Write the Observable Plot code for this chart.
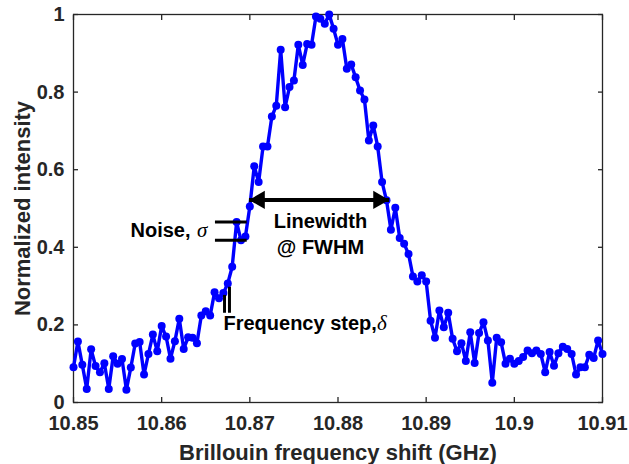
<!DOCTYPE html>
<html><head><meta charset="utf-8">
<script src="https://cdn.jsdelivr.net/npm/d3@7"></script>
<script src="https://cdn.jsdelivr.net/npm/@observablehq/plot@0.6"></script>
<style>body{margin:0;background:#fff} #chart{position:absolute;left:0;top:0}</style>
</head><body><div id="chart"></div>
<script>
// Sampling grid (GHz)
const freqStart = 10.85;
const freqStep = 0.0005;
// Normalized intensity
const intensity = [
  0.091, 0.157, 0.097, 0.035, 0.137, 0.094, 0.078, 0.101, 0.035, 0.119,
  0.100, 0.112, 0.033, 0.090, 0.152, 0.156, 0.072, 0.125, 0.175, 0.132,
  0.197, 0.170, 0.113, 0.158, 0.216, 0.138, 0.168, 0.167, 0.153, 0.224,
  0.235, 0.224, 0.284, 0.269, 0.282, 0.307, 0.350, 0.465, 0.418, 0.428,
  0.505, 0.609, 0.568, 0.660, 0.660, 0.737, 0.765, 0.909, 0.761, 0.813,
  0.830, 0.922, 0.870, 0.924, 0.922, 0.995, 0.989, 0.976, 1.000, 0.963,
  0.922, 0.937, 0.860, 0.871, 0.838, 0.804, 0.781, 0.675, 0.714, 0.660,
  0.568, 0.521, 0.445, 0.502, 0.424, 0.409, 0.383, 0.325, 0.312, 0.328,
  0.312, 0.211, 0.167, 0.237, 0.194, 0.231, 0.164, 0.132, 0.153, 0.107,
  0.181, 0.102, 0.179, 0.207, 0.160, 0.051, 0.167, 0.155, 0.100, 0.113,
  0.100, 0.107, 0.117, 0.134, 0.127, 0.134, 0.125, 0.078, 0.130, 0.095,
  0.127, 0.144, 0.138, 0.125, 0.072, 0.091, 0.091, 0.123, 0.115, 0.160,
  0.125
];
const xTicks = [10.85, 10.86, 10.87, 10.88, 10.89, 10.9, 10.91];
const xTickLabels = ["10.85", "10.86", "10.87", "10.88", "10.89", "10.9", "10.91"];
const yTicks = [0, 0.2, 0.4, 0.6, 0.8, 1];
const yTickLabels = ["0", "0.2", "0.4", "0.6", "0.8", "1"];
const xTitle = "Brillouin frequency shift (GHz)";
const yTitle = "Normalized intensity";

// Annotations
const noiseLevels = [0.465, 0.418];
const noiseSpan = [10.8661, 10.8697];
const stepBarsX = [10.86713, 10.86769];
const stepBarsTop = [0.276, 0.297];
const stepBarsBottom = [0.230, 0.230];
const fwhmEnds = [10.8699, 10.8858];
const fwhmLevel = 0.522;
const endLabels = [{x: 10.86327, y: 0.443, text: "Noise,"}];
const middleLabels = [
  {x: 10.87801, y: 0.467, text: "Linewidth"},
  {x: 10.87801, y: 0.400, text: "@ FWHM"}
];
const startLabels = [{x: 10.86701, y: 0.204, text: "Frequency step,"}];
const greekLabels = [
  {x: 10.86400, y: 0.443, text: "σ"},
  {x: 10.88442, y: 0.204, text: "δ"}
];

const data = intensity.map((v, i) => ({f: freqStart + i * freqStep, v}));
const sans = "'Liberation Sans', Arial, Helvetica, sans-serif";
const serif = "'Liberation Serif', 'Times New Roman', serif";
const axisColor = "#262626";
const textOpts = {x: "x", y: "y", text: "text", fontSize: 20, fontWeight: "bold", fill: "#000", fontFamily: sans};

const chart = Plot.plot({
  width: 629,
  height: 464,
  marginLeft: 73,
  marginRight: 27,
  marginTop: 14,
  marginBottom: 62,
  style: {fontFamily: sans, fontWeight: "bold", fontSize: "20px", color: axisColor, background: "#fff"},
  x: {domain: [10.85, 10.91]},
  y: {domain: [0, 1]},
  marks: [
    Plot.frame({stroke: axisColor, strokeWidth: 1.3}),
    // inward ticks on all four sides
    Plot.axisX(xTicks, {anchor: "bottom", tickSize: -5, tickFormat: () => "", label: null, stroke: axisColor, strokeWidth: 1.3}),
    Plot.axisX(xTicks, {anchor: "top", tickSize: -5, tickFormat: () => "", label: null, stroke: axisColor, strokeWidth: 1.3}),
    Plot.axisY(yTicks, {anchor: "left", tickSize: -5, tickFormat: () => "", label: null, stroke: axisColor, strokeWidth: 1.3}),
    Plot.axisY(yTicks, {anchor: "right", tickSize: -5, tickFormat: () => "", label: null, stroke: axisColor, strokeWidth: 1.3}),
    // tick labels
    Plot.axisX(xTicks, {anchor: "bottom", tickSize: 0, tickPadding: 13, tickFormat: (d, i) => xTickLabels[i],
      fontSize: 20, fontWeight: "bold", label: null}),
    Plot.axisY(yTicks, {anchor: "left", tickSize: 0, tickPadding: 9, tickFormat: (d, i) => yTickLabels[i],
      fontSize: 20, fontWeight: "bold", label: null}),
    // axis titles
    Plot.text([xTitle], {text: d => d, frameAnchor: "bottom", dy: 50, textAnchor: "middle", lineAnchor: "middle", fontSize: 22, fontWeight: "bold", fill: axisColor}),
    Plot.text([yTitle], {text: d => d, frameAnchor: "left", dx: -51, rotate: -90, textAnchor: "middle", lineAnchor: "middle", fontSize: 22, fontWeight: "bold", fill: axisColor}),
    // data
    Plot.line(data, {x: "f", y: "v", stroke: "#0000ff", strokeWidth: 3.4}),
    Plot.dot(data, {x: "f", y: "v", r: 4, fill: "#0000ff"}),
    // noise bars
    Plot.ruleY(noiseLevels, {y: d => d, x1: noiseSpan[0], x2: noiseSpan[1], stroke: "#000", strokeWidth: 3}),
    // frequency step bars
    Plot.ruleX(stepBarsX, {x: d => d, y1: (d, i) => stepBarsTop[i], y2: (d, i) => stepBarsBottom[i], stroke: "#000", strokeWidth: 3}),
    // FWHM double arrow
    Plot.link([fwhmLevel], {x1: fwhmEnds[0], x2: fwhmEnds[1], y1: d => d, y2: d => d, stroke: "#000", strokeWidth: 4}),
    Plot.dot([fwhmEnds[0]], {x: d => d, y: fwhmLevel, symbol: "triangle", rotate: -90, r: 6.8, fill: "#000", dx: 10.6}),
    Plot.dot([fwhmEnds[1]], {x: d => d, y: fwhmLevel, symbol: "triangle", rotate: 90, r: 6.8, fill: "#000", dx: -10.6}),
    // annotation text
    Plot.text(endLabels, {...textOpts, textAnchor: "end"}),
    Plot.text(middleLabels, {...textOpts, textAnchor: "middle"}),
    Plot.text(startLabels, {...textOpts, textAnchor: "start"}),
    Plot.text(greekLabels, {x: "x", y: "y", text: "text", textAnchor: "start", fontSize: 21, fontStyle: "italic", fontWeight: "normal", fill: "#000", fontFamily: serif})
  ]
});
document.getElementById("chart").appendChild(chart);
</script>
</body></html>
